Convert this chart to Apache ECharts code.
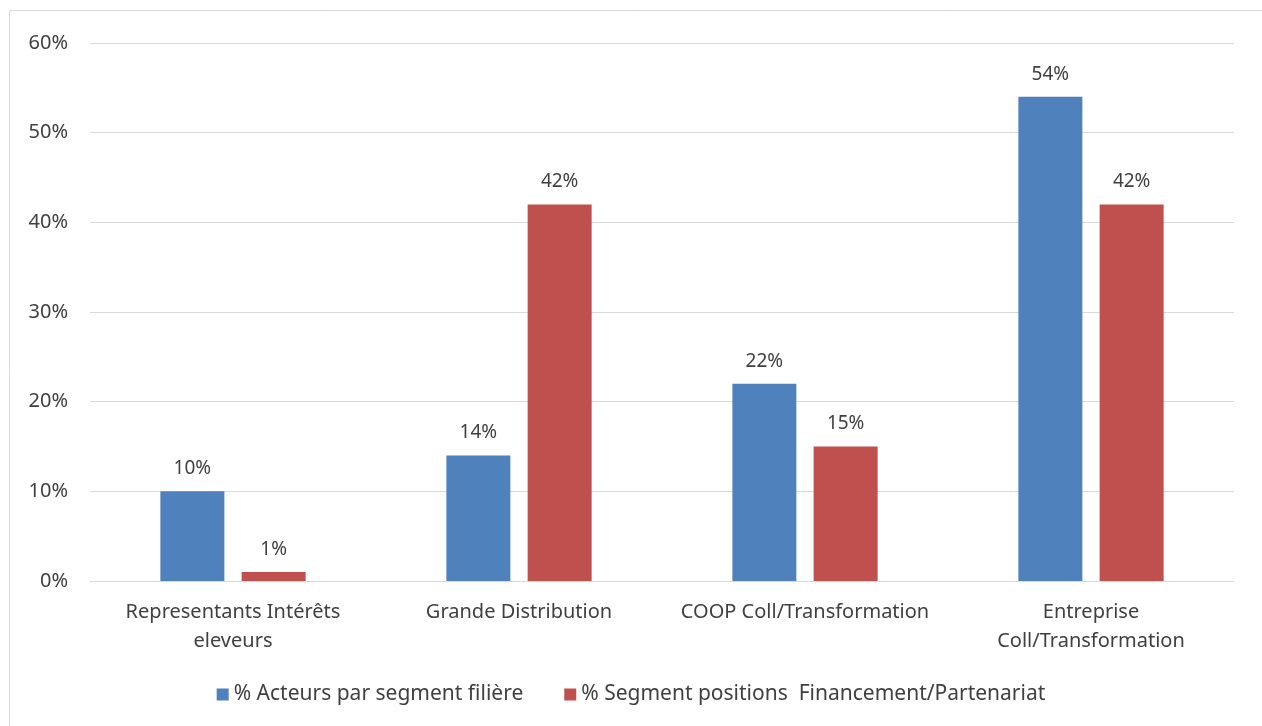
<!DOCTYPE html>
<html><head><meta charset="utf-8">
<script src="https://cdn.jsdelivr.net/npm/echarts@6/dist/echarts.min.js"></script>
<style>html,body{margin:0;padding:0;background:#fff}#c{width:1262px;height:726px}</style>
</head><body><div id="c"></div>
<script>
const categories = ["Representants Intérêts\neleveurs", "Grande Distribution", "COOP Coll/Transformation", "Entreprise\nColl/Transformation"];
const seriesNames = ["% Acteurs par segment filière", "% Segment positions  Financement/Partenariat"];
const acteurs = [10, 14, 22, 54];
const segment = [1, 42, 15, 42];
const yTicks = [0, 10, 20, 30, 40, 50, 60];

const FONT = "Noto Sans";
const FS = 20;
const chart = echarts.init(document.getElementById('c'), null, {renderer: 'canvas'});
const lbl = {show: true, position: 'top', distance: 13, formatter: p => p.value + '%', color: '#404040', fontSize: FS - 1, fontFamily: FONT};
chart.setOption({
  animation: false,
  textStyle: {fontFamily: FONT},
  graphic: [{type: 'rect', shape: {x: 9.5, y: 10.5, width: 1300, height: 800}, style: {fill: 'none', stroke: '#d9d9d9', lineWidth: 1}, z: -1}],
  grid: {left: 90, right: 28, top: 43, bottom: 145, containLabel: false},
  legend: {
    bottom: 16, left: 'center', itemWidth: 12, itemHeight: 12, itemGap: 41,
    icon: 'rect', textStyle: {color: '#404040', fontSize: 21, fontFamily: FONT},
    data: seriesNames
  },
  xAxis: {
    type: 'category', data: categories,
    axisLine: {lineStyle: {color: '#d9d9d9', width: 1}},
    axisTick: {show: false},
    axisLabel: {color: '#404040', fontSize: FS, fontFamily: FONT, lineHeight: 29, margin: 17, interval: 0}
  },
  yAxis: {
    type: 'value', min: yTicks[0], max: yTicks[yTicks.length - 1], interval: 10,
    axisLine: {show: false}, axisTick: {show: false},
    splitLine: {lineStyle: {color: '#d9d9d9', width: 1}},
    axisLabel: {formatter: v => v + '%', color: '#404040', fontSize: FS, fontFamily: FONT, margin: 22}
  },
  series: [
    {name: seriesNames[0], type: 'bar', data: acteurs, barWidth: 64, barGap: '27%', itemStyle: {color: '#4f81bd'}, label: lbl},
    {name: seriesNames[1], type: 'bar', data: segment, barWidth: 64, itemStyle: {color: '#c0504d'}, label: lbl}
  ]
});
</script></body></html>
